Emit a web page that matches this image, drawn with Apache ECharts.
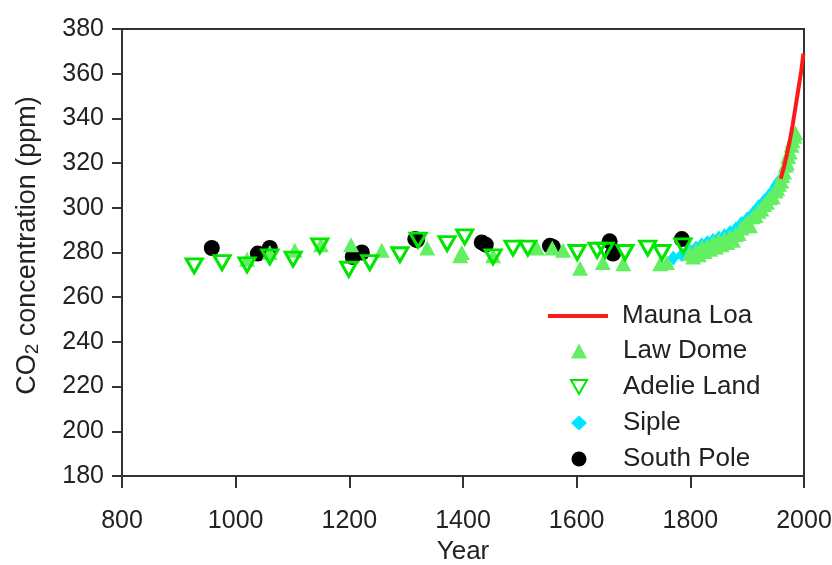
<!DOCTYPE html>
<html>
<head>
<meta charset="utf-8">
<script src="https://cdn.jsdelivr.net/npm/echarts@6/dist/echarts.min.js"></script>
<style>html,body{margin:0;padding:0;background:#fff;overflow:hidden}#c{width:832px;height:565px}</style>
</head>
<body>
<div id="c"></div>
<script>
const xTicks = [800, 1000, 1200, 1400, 1600, 1800, 2000];
const yTicks = [180, 200, 220, 240, 260, 280, 300, 320, 340, 360, 380];

const maunaLoa = [[1959,313],[1965,318.5],[1970,324],[1975,330],[1980,337],[1985,345],[1990,353],[1995,361],[1999,369]];

const lawDome = [[1020,277],[1060,280],[1104,281],[1150,283.5],[1203,283.5],[1257,281],[1337,282],[1395,278.5],[1398,280],
  [1453,278.5],[1530,282],[1557,282],[1576,281],[1606,273],[1646,275.5],[1682,275],[1747,275],[1759,275.5],[1799,279.5],[1822,281],
  [1805,278],[1810,281],[1815,279],[1820,282.5],[1825,280.5],[1830,283],[1835,281.5],[1840,284.5],[1845,282.5],[1850,285.5],[1855,283.5],
  [1860,286],[1865,284.5],[1870,287],[1875,285.5],[1880,288],[1885,288.5],[1890,291],[1895,292],[1900,293.5],[1905,292],
  [1910,296],[1915,296.5],[1920,298.5],[1925,299.5],[1930,301.5],[1935,302.5],[1940,304.5],[1945,305],[1950,307.5],[1953,308.5],
  [1956,310.5],[1960,312],[1962,314.5],[1965,316],[1968,319],[1970,320],[1972,323],[1975,325],[1978,328],[1980,330],[1983,332],[1985,333.5]];

const adelieLand = [[927,274],[976,275.5],[1020,274.5],[1060,278],[1101,277],[1148,283],[1199,272.5],[1236,275.5],[1289,279],
  [1321,285.5],[1372,284],[1403,287],[1453,278],[1488,282],[1514,282],[1601,280],[1636,281],[1650,281],[1685,280],[1725,282],[1750,280],[1787,283]];

const siple = [[1770,277.5],[1785,279],[1800,280.5],[1810,282],[1820,283.5],[1830,284.5],[1840,285.5],[1850,286.5],
  [1860,287.5],[1870,289],[1880,290.5],[1890,293],[1900,295],[1910,297.5],[1920,300.5],[1930,303],[1940,306],[1950,309.5],[1955,311.5]];

const southPole = [[958,282],[1039,279.5],[1060,282],[1206,278],[1222,280],[1316,286],[1319,285.5],[1433,284.5],[1440,283.5],
  [1553,283],[1558,282.5],[1658,285],[1664,279.5],[1785,286]];

const FONT = 'Liberation Sans, Arial, Helvetica, sans-serif';
const TXT = '#222';
const chart = echarts.init(document.getElementById('c'), null, {renderer: 'canvas'});
chart.setOption({
  animation: false,
  backgroundColor: '#fff',
  grid: {left: 122, right: 28, top: 29, bottom: 89, containLabel: false, outerBoundsMode: 'none',
         show: true, borderColor: '#333', borderWidth: 2, backgroundColor: 'transparent'},
  xAxis: {
    type: 'value', min: xTicks[0], max: xTicks[xTicks.length-1], interval: 200,
    name: 'Year', nameLocation: 'middle', nameGap: 62,
    nameTextStyle: {fontSize: 26, color: TXT, fontFamily: FONT},
    axisLine: {lineStyle: {color: '#333', width: 2}},
    axisTick: {inside: false, length: 12, lineStyle: {color: '#333', width: 2}},
    axisLabel: {fontSize: 25, color: TXT, fontFamily: FONT, margin: 33, formatter: v => String(v)},
    splitLine: {show: false}
  },
  yAxis: {
    type: 'value', min: yTicks[0], max: yTicks[yTicks.length-1], interval: 20,
    name: '{a|CO}{s|2}{a| concentration (ppm)}', nameLocation: 'middle', nameGap: 80, nameRotate: 90,
    nameTextStyle: {fontSize: 27, color: TXT, fontFamily: FONT, padding: [0, 0, 0, 14],
      rich: {a: {fontSize: 27, color: TXT, fontFamily: FONT, lineHeight: 28, verticalAlign: 'middle'},
             s: {fontSize: 19, color: TXT, fontFamily: FONT, lineHeight: 12, verticalAlign: 'bottom'}}},
    axisLine: {lineStyle: {color: '#333', width: 2}},
    axisTick: {inside: false, length: 10, lineStyle: {color: '#333', width: 2}},
    axisLabel: {fontSize: 25, color: TXT, fontFamily: FONT, margin: 18, formatter: v => String(v)},
    splitLine: {show: false}
  },
  legend: [
    {
      orient: 'vertical', left: 543, top: 298, itemWidth: 60, itemHeight: 4,
      data: [{name: 'Mauna Loa', icon: 'rect'}],
      textStyle: {fontSize: 26, color: TXT, fontFamily: FONT, padding: [0, 0, 0, 9]}
    },
    {
      orient: 'vertical', left: 565, top: 333, itemWidth: 16, itemHeight: 15, itemGap: 10,
      data: [{name: 'Law Dome', icon: 'triangle'}, {name: 'Adelie Land', icon: 'path://M0,0 L10,0 L5,8.66 Z'},
             {name: 'Siple', icon: 'diamond'}, {name: 'South Pole', icon: 'circle'}],
      textStyle: {fontSize: 26, color: TXT, fontFamily: FONT, padding: [0, 0, 0, 31]}
    }
  ],
  series: [
    {name: 'South Pole', type: 'scatter', data: southPole, symbol: 'circle', symbolSize: 16,
     itemStyle: {color: '#000', opacity: 1}, z: 2},
    {name: 'Siple', type: 'scatter', data: siple, symbol: 'diamond', symbolSize: [12, 15],
     itemStyle: {color: '#00e5ff', opacity: 1}, z: 3},
    {name: 'Law Dome', type: 'scatter', data: lawDome, symbol: 'triangle', symbolSize: [16, 15],
     itemStyle: {color: '#62f062', opacity: 1}, z: 4},
    {name: 'Adelie Land', type: 'scatter', data: adelieLand, symbol: 'path://M0,0 L10,0 L5,8.66 Z', symbolSize: [16, 14],
     itemStyle: {color: 'rgba(255,255,255,0)', borderColor: '#00e600', borderWidth: 3, opacity: 1}, z: 5},
    {name: 'Mauna Loa', type: 'line', data: maunaLoa, symbol: 'none', smooth: false,
     lineStyle: {color: '#ff1a1a', width: 4}, itemStyle: {color: '#ff1a1a'}, z: 6}
  ]
});
</script>
</body>
</html>
